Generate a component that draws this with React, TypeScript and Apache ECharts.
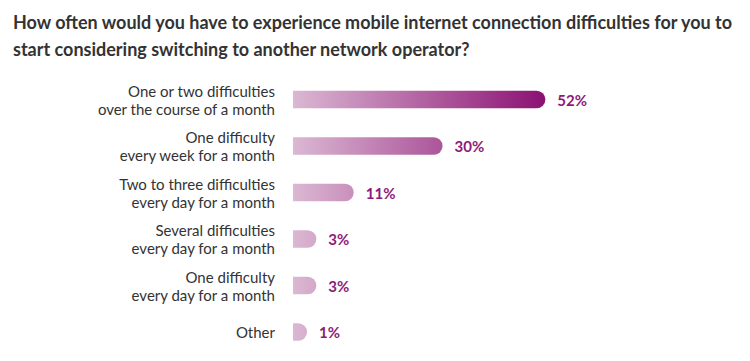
import React, { useEffect, useRef } from "react";
import * as echarts from "echarts";

const titleLines = [
  "How often would you have to experience mobile internet connection difficulties for you to",
  "start considering switching to another network operator?",
];
const categories = [
  "One or two difficulties\nover the course of a month",
  "One difficulty\nevery week for a month",
  "Two to three difficulties\nevery day for a month",
  "Several difficulties\nevery day for a month",
  "One difficulty\nevery day for a month",
  "Other",
];
const values = [52, 30, 11, 3, 3, 1];

const FONT = "Lato, 'Noto Sans', sans-serif";

export default function App() {
  const ref = useRef<HTMLDivElement>(null);
  useEffect(() => {
    document.body.style.margin = "0";
    if (!ref.current) return;
    const chart = echarts.init(ref.current, undefined, { renderer: "svg" });
    const gradient = new echarts.graphic.LinearGradient(
      293,
      0,
      545,
      0,
      [
        { offset: 0, color: "#dbb8d3" },
        { offset: 1, color: "#8b1173" },
      ],
      true
    );
    chart.setOption({
      animation: false,
      backgroundColor: "#ffffff",
      title: {
        text: titleLines.join("\n"),
        left: 8,
        top: 3,
        textStyle: {
          fontFamily: FONT,
          fontSize: 18,
          fontWeight: "bold",
          color: "#333333",
          lineHeight: 27,
        },
      },
      grid: { left: 293, right: 73.8, top: 76.25, bottom: 5.75, containLabel: false },
      xAxis: {
        type: "value",
        min: -2,
        max: 80,
        startValue: -2,
        show: false,
      },
      yAxis: {
        type: "category",
        inverse: true,
        data: categories,
        axisLine: { show: false },
        axisTick: { show: false },
        splitLine: { show: false },
        axisLabel: {
          margin: 18,
          fontFamily: FONT,
          fontSize: 15,
          color: "#333333",
          lineHeight: 18,
          align: "right",
        },
      },
      series: [
        {
          type: "bar",
          data: values,
          barWidth: 17.5,
          itemStyle: { color: gradient, borderRadius: [0, 9, 9, 0] },
          label: {
            show: true,
            position: "right",
            distance: 12,
            formatter: "{c}%",
            fontFamily: FONT,
            fontSize: 15,
            fontWeight: "bold",
            color: "#8e1a78",
          },
        },
      ],
    });
    return () => chart.dispose();
  }, []);
  return <div ref={ref} style={{ width: 750, height: 361 }} />;
}
